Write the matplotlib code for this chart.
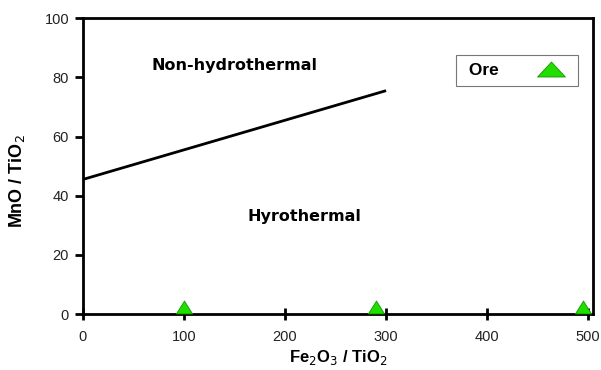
import matplotlib
matplotlib.use("Agg")
import matplotlib.pyplot as plt
from matplotlib.lines import Line2D

plt.rcParams.update({"font.family": ["Liberation Sans", "DejaVu Sans"]})

# discrimination line (Non-hydrothermal / hydrothermal)
line_x = [0, 300]
line_y = [45.5, 75.5]
# Ore samples
ore_x = [100, 290, 495]
ore_y = [2.4, 2.4, 2.4]
xticks = [0, 100, 200, 300, 400, 500]
yticks = [0, 20, 40, 60, 80, 100]
GREEN = "#22dd00"
TRI = [(-0.5, -0.4), (0.5, -0.4), (0, 0.4), (-0.5, -0.4)]
TRI_LEG = [(-0.5, -0.27), (0.5, -0.27), (0, 0.27), (-0.5, -0.27)]

fig = plt.figure(figsize=(6.01, 3.70), dpi=100)
ax = fig.add_axes([0.138, 0.151, 0.849, 0.80])
ax.set_xlim(0, 505)
ax.set_ylim(0, 100)

ax.plot(line_x, line_y, color="black", lw=2, solid_capstyle="butt")
ax.scatter(ore_x, ore_y, marker=TRI, s=135, color=GREEN, edgecolor="#119900",
           linewidth=0.6, zorder=5, clip_on=False)

ax.text(150, 84, "Non-hydrothermal", fontsize=11.5, fontweight="bold", ha="center",
        va="center", family="DejaVu Sans")
ax.text(219, 33, "Hyrothermal", fontsize=11.5, fontweight="bold", ha="center",
        va="center", family="DejaVu Sans")

ax.set_xticks(xticks)
ax.set_yticks(yticks)
ax.tick_params(axis="x", direction="inout", length=9, width=2, labelsize=10.5, pad=7,
               labelcolor="#222222")
ax.tick_params(axis="y", direction="out", length=6, width=2, labelsize=10.5, pad=4,
               labelcolor="#222222")
for s in ax.spines.values():
    s.set_linewidth(2)

ax.set_xlabel(r"Fe$_2$O$_3$ / TiO$_2$", fontsize=12, fontweight="bold", labelpad=3)
ax.set_ylabel(r"MnO / TiO$_2$", fontsize=13, fontweight="bold")
ax.yaxis.set_label_coords(-0.11, 0.45)

handle = Line2D([], [], marker=TRI_LEG, ls="none", markersize=20, markerfacecolor=GREEN,
                markeredgecolor="#119900", markeredgewidth=0.6)
leg = ax.legend([handle], [" Ore"], loc="upper right", bbox_to_anchor=(0.97, 0.875),
                borderaxespad=0, frameon=True, fancybox=False, edgecolor="#555555",
                markerfirst=False, handletextpad=1.9, handlelength=2.2, borderpad=0.45,
                prop={"weight": "bold", "size": 12.5})
leg.get_frame().set_linewidth(0.8)

fig.savefig("out.png", dpi=100)
